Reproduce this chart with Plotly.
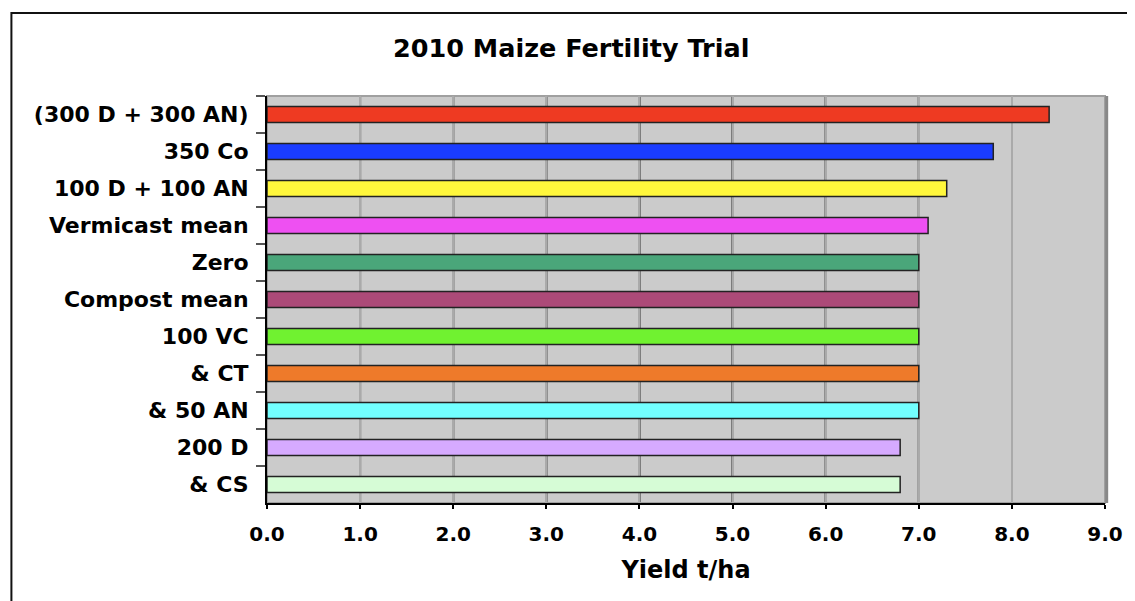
import plotly.graph_objects as go

treatments = ["(300 D + 300 AN)", "350 Co", "100 D + 100 AN", "Vermicast mean", "Zero",
              "Compost mean", "100 VC", "& CT", "& 50 AN", "200 D", "& CS"]
yields = [8.4, 7.8, 7.3, 7.1, 7.0, 7.0, 7.0, 7.0, 7.0, 6.8, 6.8]
colors = ["#EE3A22", "#1A3CFF", "#FFF73C", "#EE50F2", "#4AA67A", "#AC4A78",
          "#70F230", "#EE7A2A", "#72FFFF", "#D6AAFF", "#D6FCD6"]
x_ticks = [0, 1, 2, 3, 4, 5, 6, 7, 8, 9]

FONT = "DejaVu Sans"
W, H = 1127, 593  # page body adds an 8px margin

fig = go.Figure()
fig.add_trace(go.Bar(
    y=treatments, x=yields, orientation="h",
    marker=dict(color=colors, line=dict(color="#222222", width=1.5)),
    width=0.43,
))

# dark vertical gridlines (the 8.0 one stays light grey, as in the picture)
shapes = []
for v in x_ticks[1:8]:
    shapes.append(dict(type="line", xref="x", yref="paper", x0=v, x1=v, y0=0, y1=1,
                       line=dict(color="#1a1a1a", width=2), layer="below"))
# plot area border
shapes.append(dict(type="rect", xref="paper", yref="paper", x0=0, x1=1, y0=0, y1=1,
                   line=dict(color="#a0a0a0", width=2), layer="below"))
shapes.append(dict(type="line", xref="paper", yref="paper", x0=1.002, x1=1.002, y0=0, y1=1,
                   line=dict(color="#888888", width=3)))
# outer chart frame
shapes.append(dict(type="rect", xref="paper", yref="paper", x0=-0.305, x1=1.2, y0=-0.4, y1=1.204,
                   line=dict(color="#111111", width=2)))

fig.update_layout(
    width=W, height=H,
    margin=dict(l=259, r=22, t=88, b=98),
    paper_bgcolor="white", plot_bgcolor="#CBCBCB",
    showlegend=False,
    shapes=shapes,
    title=dict(text="<b>2010 Maize Fertility Trial</b>", x=0.363, xref="paper",
               xanchor="center", y=1 - 40 / H, yref="container", yanchor="middle",
               font=dict(family=FONT, size=25.5, color="black")),
)

fig.update_xaxes(
    range=[0, 9], tickvals=x_ticks, ticktext=[f"{v:.1f}" for v in x_ticks],
    showgrid=True, gridcolor="#aaaaaa", gridwidth=2,
    showline=True, linecolor="black", linewidth=2,
    ticks="outside", ticklen=4, tickcolor="black", tickwidth=2,
    tickfont=dict(family=FONT, size=20, color="black", weight="bold"),
    ticklabelstandoff=8,
    title=dict(text="<b>Yield t/ha</b>", standoff=16,
               font=dict(family=FONT, size=24, color="black")),
    zeroline=False,
)
fig.update_yaxes(
    categoryorder="array", categoryarray=treatments, autorange="reversed",
    showgrid=False, showline=True, linecolor="black", linewidth=2,
    ticks="outside", tickson="boundaries", ticklen=9, tickcolor="#555555", tickwidth=2,
    tickfont=dict(family=FONT, size=22, color="black", weight="bold"),
    ticklabelstandoff=12,
)

fig.write_html("out.html")
